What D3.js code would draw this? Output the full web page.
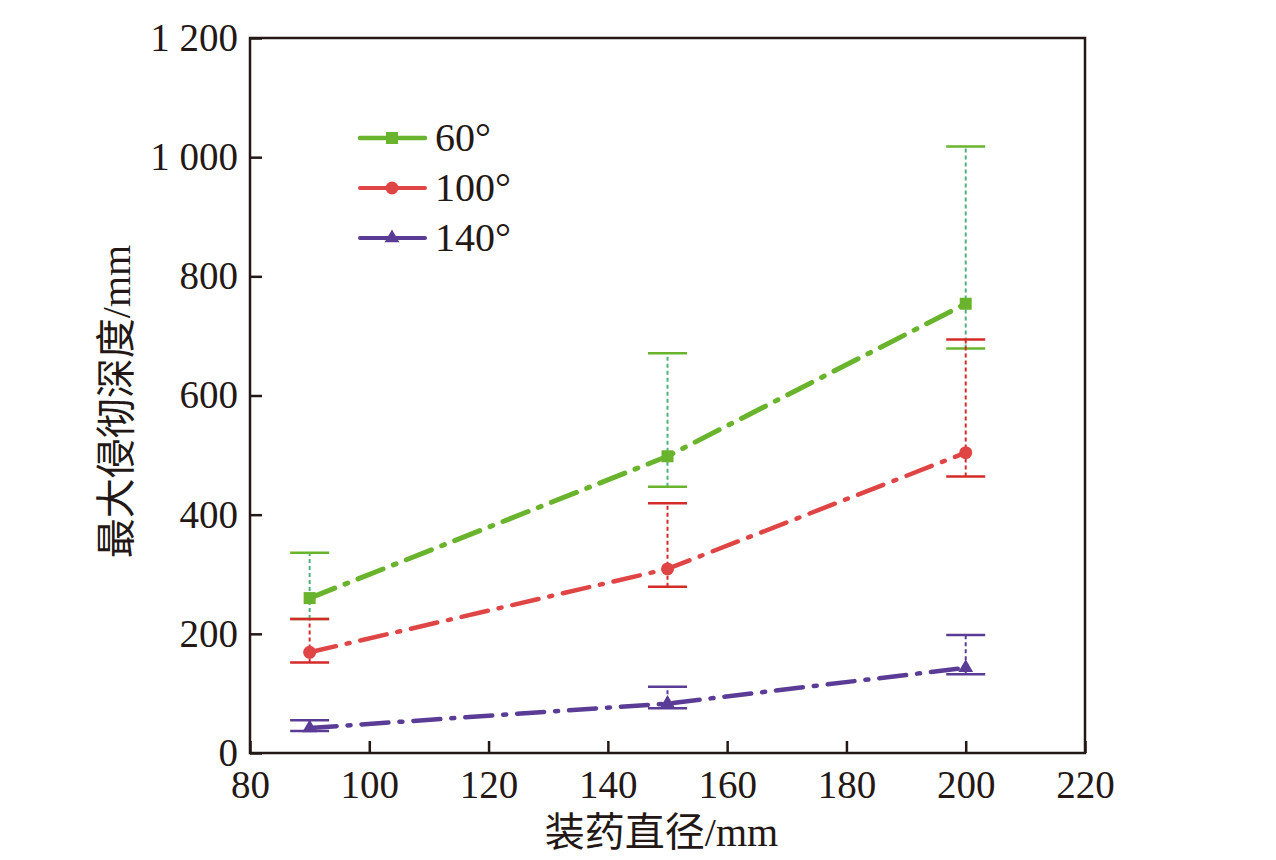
<!DOCTYPE html>
<html>
<head>
<meta charset="utf-8">
<script src="https://cdn.jsdelivr.net/npm/d3@7"></script>
<style>
  html, body { margin: 0; padding: 0; background: #fff; }
  svg { display: block; }
</style>
</head>
<body>
<div id="chart"></div>
<script>
// données
const diameters = [90, 150, 200];
const seriesNames = ["60°", "100°", "140°"];
const mean60 = [260, 498, 754];
const low60 = [225, 447, 679];
const high60 = [336, 671, 1018];
const mean100 = [169, 309, 504];
const low100 = [152, 279, 464];
const high100 = [225, 419, 694];
const mean140 = [42, 83, 143];
const low140 = [37, 75, 132];
const high140 = [55, 111, 198];
const xTicks = [80, 100, 120, 140, 160, 180, 200, 220];
const yTicks = [0, 200, 400, 600, 800, 1000, 1200];
const yTickLabels = ["0", "200", "400", "600", "800", "1 000", "1 200"];

const W = 1276, H = 860;
const margin = { top: 38, right: 191, bottom: 107, left: 250 };
const width = W - margin.left - margin.right;
const height = H - margin.top - margin.bottom;

const ink = "#231815";
const serif = "'Liberation Serif', 'Times New Roman', 'Noto Sans CJK SC', serif";

const styles = [
  { name: seriesNames[0], mean: mean60, low: low60, high: high60, color: "#6ab42d", err: "#52b07a", cap: "#6ab42d", w: 5, marker: "square" },
  { name: seriesNames[1], mean: mean100, low: low100, high: high100, color: "#e04545", err: "#d42a2a", cap: "#d42a2a", w: 4.5, marker: "circle" },
  { name: seriesNames[2], mean: mean140, low: low140, high: high140, color: "#5a3c96", err: "#5a3c96", cap: "#5a3c96", w: 4.5, marker: "triangle" }
];

const svg = d3.select("#chart").append("svg")
  .attr("width", W).attr("height", H);

const g = svg.append("g").attr("transform", `translate(${margin.left},${margin.top})`);

const x = d3.scaleLinear().domain([80, 220]).range([0, width]);
const y = d3.scaleLinear().domain([0, 1200]).range([height, 0]);

// axes, ticks vers l'intérieur
const xAxis = g.append("g")
  .attr("transform", `translate(0,${height})`)
  .call(d3.axisBottom(x).tickValues(xTicks).tickSizeInner(-12).tickSizeOuter(0).tickPadding(17).tickFormat(d3.format("d")));
const yAxis = g.append("g")
  .call(d3.axisLeft(y).tickValues(yTicks).tickSizeInner(-12).tickSizeOuter(0).tickPadding(12)
    .tickFormat((d, i) => yTickLabels[i]));

[xAxis, yAxis].forEach(a => {
  a.select(".domain").remove();
  a.selectAll(".tick line").attr("stroke", ink).attr("stroke-width", 2.5);
  a.selectAll(".tick text")
    .attr("fill", ink)
    .attr("font-family", serif)
    .attr("font-size", "39px");
});

// cadre
g.append("rect")
  .attr("x", 0).attr("y", 0)
  .attr("width", width).attr("height", height)
  .attr("fill", "none")
  .attr("stroke", ink)
  .attr("stroke-width", 2.5);

// titres des axes
svg.append("text")
  .attr("x", margin.left + x(150) - 6)
  .attr("y", 846)
  .attr("text-anchor", "middle")
  .attr("fill", ink)
  .attr("font-family", serif)
  .attr("font-size", "40px")
  .text("装药直径/mm");

svg.append("text")
  .attr("transform", `translate(130,${margin.top + y(590)}) rotate(-90)`)
  .attr("text-anchor", "middle")
  .attr("fill", ink)
  .attr("font-family", serif)
  .attr("font-size", "40px")
  .text("最大侵彻深度/mm");

function drawMarker(sel, type, color) {
  if (type === "square") {
    sel.append("rect").attr("x", -6).attr("y", -6).attr("width", 12).attr("height", 12).attr("fill", color);
  } else if (type === "circle") {
    sel.append("circle").attr("r", 6.5).attr("fill", color);
  } else {
    sel.append("path").attr("d", d3.symbol().type(d3.symbolTriangle).size(95)()).attr("fill", color);
  }
}

const line = d3.line()
  .x(d => x(d[0]))
  .y(d => y(d[1]));

styles.forEach(s => {
  const pts = diameters.map((d, i) => [d, s.mean[i], s.low[i], s.high[i]]);
  const sg = g.append("g");

  // barres d'erreur
  const eb = sg.selectAll(".err").data(pts).enter().append("g");
  eb.append("line")
    .attr("x1", d => x(d[0])).attr("x2", d => x(d[0]))
    .attr("y1", d => y(d[2])).attr("y2", d => y(d[3]))
    .attr("stroke", s.err).attr("stroke-width", 2)
    .attr("stroke-dasharray", "4 3");
  [2, 3].forEach(k => {
    eb.append("line")
      .attr("x1", d => x(d[0]) - 19.5).attr("x2", d => x(d[0]) + 19.5)
      .attr("y1", d => y(d[k])).attr("y2", d => y(d[k]))
      .attr("stroke", s.cap).attr("stroke-width", 2.5);
  });

  // courbe tiret-point
  sg.append("path")
    .datum(pts)
    .attr("d", line)
    .attr("fill", "none")
    .attr("stroke", s.color)
    .attr("stroke-width", s.w)
    .attr("stroke-linecap", "round")
    .attr("stroke-dasharray", "27 11 3 11");

  sg.selectAll(".pt").data(pts).enter().append("g")
    .attr("transform", d => `translate(${x(d[0])},${y(d[1])})`)
    .each(function () { drawMarker(d3.select(this), s.marker, s.color); });
});

// légende
const legend = svg.append("g");
styles.forEach((s, i) => {
  const ly = 138 + i * 50;
  const row = legend.append("g").attr("transform", `translate(0,${ly})`);
  row.append("line")
    .attr("x1", 360).attr("x2", 425)
    .attr("stroke", s.color).attr("stroke-width", s.w - 0.5)
    .attr("stroke-linecap", "round");
  drawMarker(row.append("g").attr("transform", "translate(392,0)"), s.marker, s.color);
  row.append("text")
    .attr("x", 435).attr("y", 13)
    .attr("fill", ink)
    .attr("font-family", serif)
    .attr("font-size", "40px")
    .text(s.name);
});
</script>
</body>
</html>
